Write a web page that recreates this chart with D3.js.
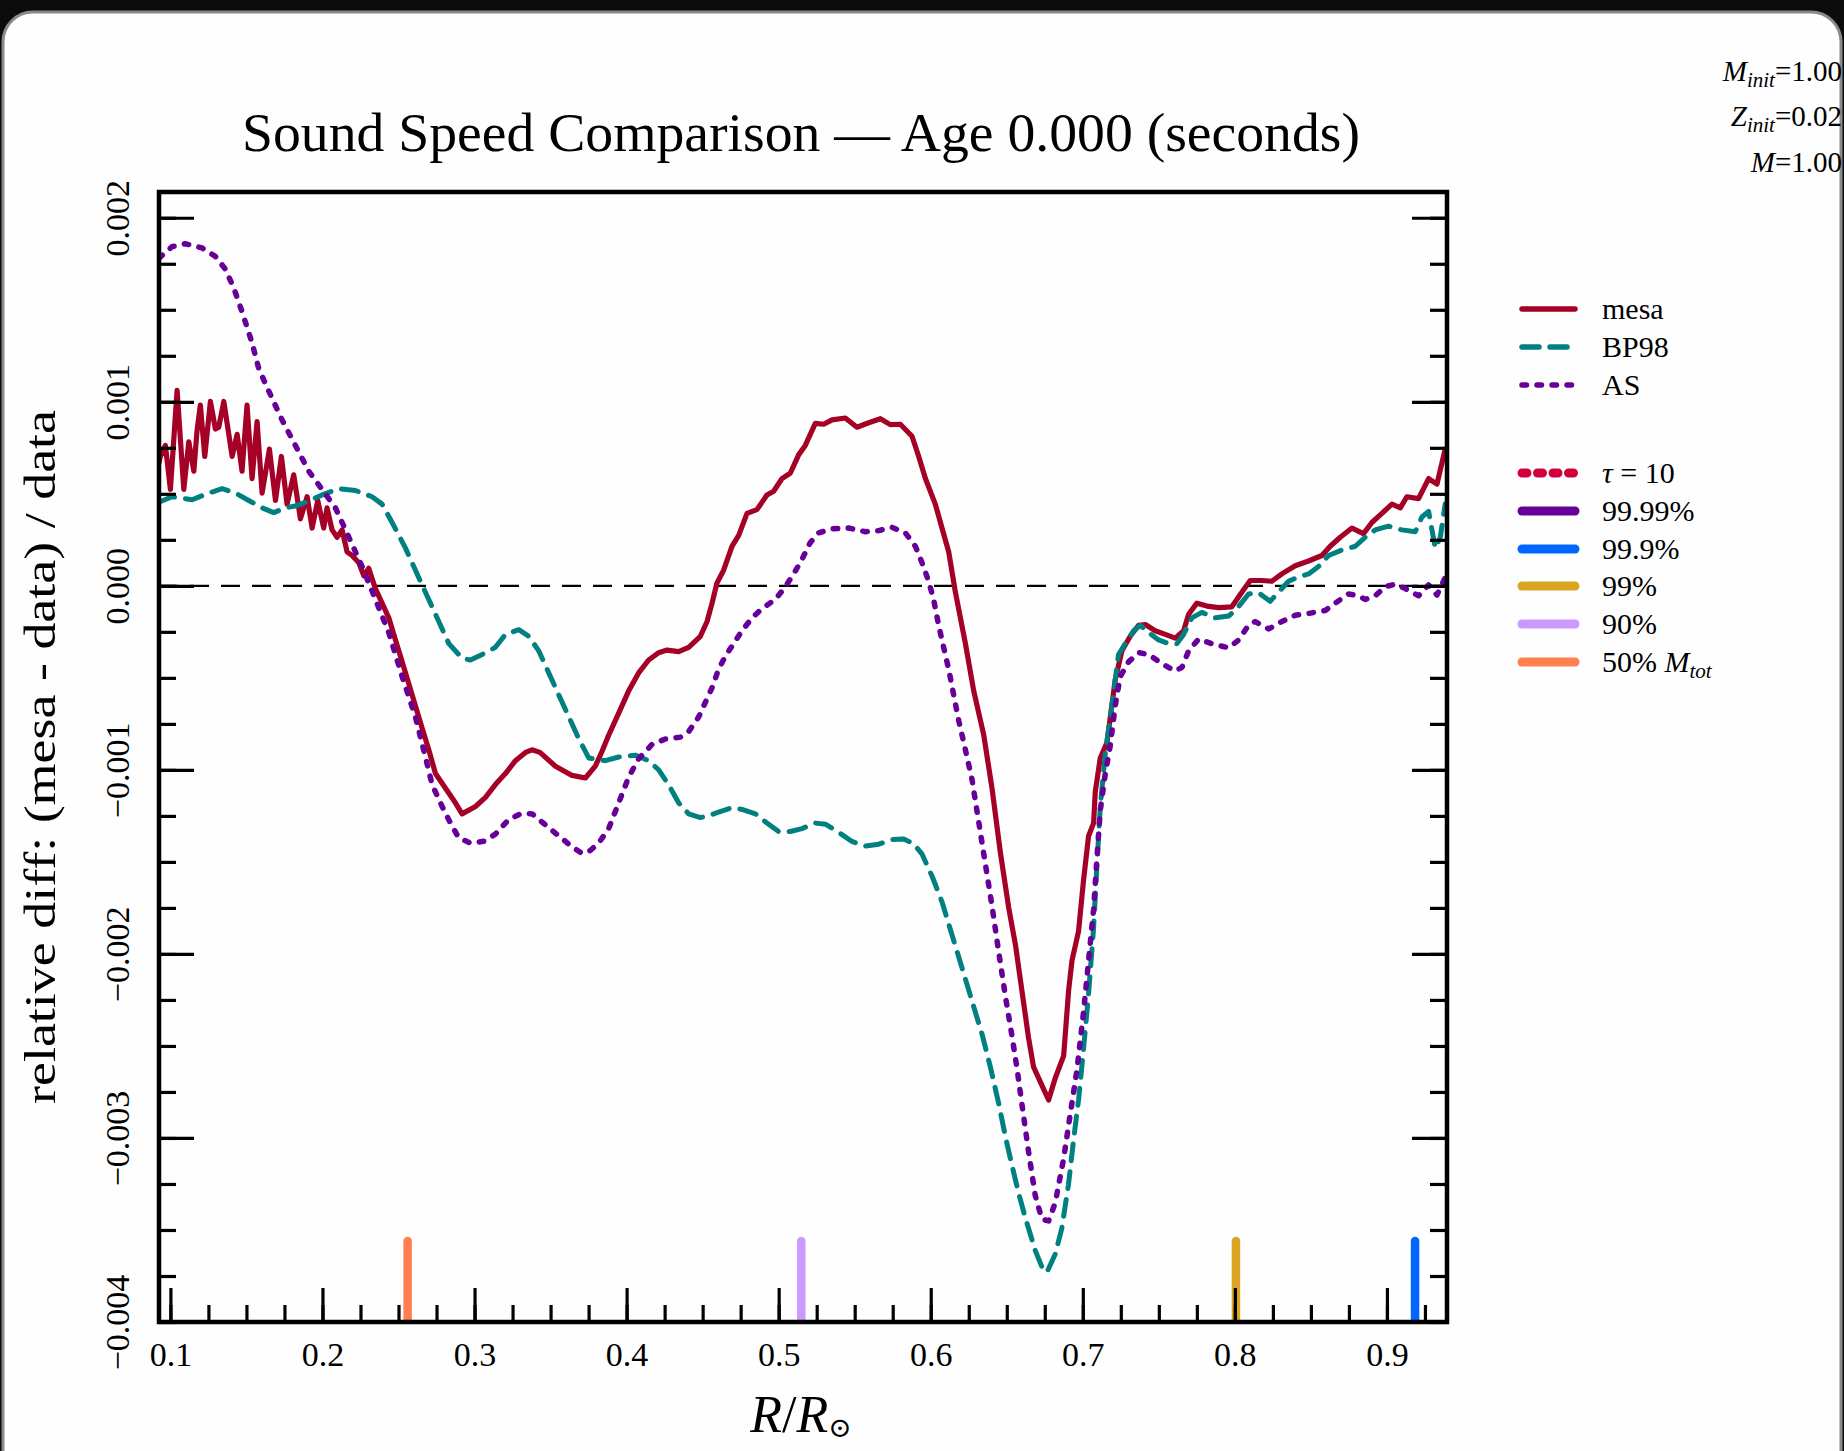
<!DOCTYPE html>
<html>
<head>
<meta charset="utf-8">
<script src="https://cdn.jsdelivr.net/npm/d3@7"></script>
<style>
  html, body { margin: 0; padding: 0; background: #0b0b0b; }
  svg { display: block; }
  text { font-family: "Liberation Serif", "DejaVu Serif", serif; fill: #000; }
</style>
</head>
<body>
<svg id="chart" width="1844" height="1451"></svg>
<script>
// Relative sound-speed differences [R/Rsun, (model - data)/data]
const mesa = [
  [0.0923, 0.663e-3], [0.0934, 0.703e-3], [0.0967, 0.763e-3], [0.1000, 0.524e-3],
  [0.1044, 1.062e-3], [0.1088, 0.524e-3], [0.1121, 0.783e-3], [0.1154, 0.623e-3],
  [0.1175, 0.842e-3], [0.1197, 0.982e-3], [0.1226, 0.703e-3], [0.1263, 1.002e-3],
  [0.1296, 0.852e-3], [0.1318, 0.862e-3], [0.1351, 1.002e-3], [0.1406, 0.703e-3],
  [0.1439, 0.823e-3], [0.1471, 0.623e-3], [0.1504, 0.982e-3], [0.1537, 0.583e-3],
  [0.1570, 0.892e-3], [0.1603, 0.504e-3], [0.1651, 0.743e-3], [0.1691, 0.464e-3],
  [0.1730, 0.703e-3], [0.1767, 0.444e-3], [0.1811, 0.603e-3], [0.1855, 0.364e-3],
  [0.1899, 0.484e-3], [0.1932, 0.314e-3], [0.1969, 0.464e-3], [0.2008, 0.314e-3],
  [0.2030, 0.424e-3], [0.2063, 0.304e-3], [0.2096, 0.264e-3], [0.2129, 0.304e-3],
  [0.2162, 0.185e-3], [0.2195, 0.165e-3], [0.2239, 0.125e-3], [0.2272, 0.055e-3],
  [0.2304, 0.095e-3], [0.2348, -0.015e-3], [0.2392, -0.094e-3], [0.2436, -0.174e-3],
  [0.2480, -0.294e-3], [0.2524, -0.413e-3], [0.2568, -0.533e-3], [0.2611, -0.652e-3],
  [0.2655, -0.772e-3], [0.2699, -0.891e-3], [0.2743, -1.020e-3], [0.2809, -1.100e-3],
  [0.2874, -1.179e-3], [0.2918, -1.239e-3], [0.3006, -1.199e-3], [0.3072, -1.149e-3],
  [0.3137, -1.080e-3], [0.3203, -1.020e-3], [0.3269, -0.950e-3], [0.3335, -0.905e-3],
  [0.3378, -0.891e-3], [0.3430, -0.905e-3], [0.3532, -0.980e-3], [0.3641, -1.030e-3],
  [0.3729, -1.044e-3], [0.3794, -0.980e-3], [0.3838, -0.900e-3], [0.3882, -0.812e-3],
  [0.3948, -0.692e-3], [0.4013, -0.572e-3], [0.4079, -0.473e-3], [0.4145, -0.403e-3],
  [0.4211, -0.363e-3], [0.4266, -0.349e-3], [0.4342, -0.357e-3], [0.4408, -0.334e-3],
  [0.4485, -0.274e-3], [0.4529, -0.194e-3], [0.4562, -0.094e-3], [0.4594, 0.015e-3],
  [0.4638, 0.085e-3], [0.4693, 0.215e-3], [0.4737, 0.274e-3], [0.4792, 0.394e-3],
  [0.4857, 0.414e-3], [0.4923, 0.494e-3], [0.4967, 0.514e-3], [0.5022, 0.583e-3],
  [0.5077, 0.613e-3], [0.5132, 0.713e-3], [0.5175, 0.763e-3], [0.5241, 0.883e-3],
  [0.5296, 0.878e-3], [0.5351, 0.902e-3], [0.5438, 0.912e-3], [0.5515, 0.862e-3],
  [0.5592, 0.886e-3], [0.5669, 0.908e-3], [0.5734, 0.876e-3], [0.5800, 0.878e-3],
  [0.5877, 0.813e-3], [0.5921, 0.703e-3], [0.5965, 0.583e-3], [0.6030, 0.444e-3],
  [0.6074, 0.314e-3], [0.6118, 0.185e-3], [0.6162, -0.034e-3], [0.6228, -0.313e-3],
  [0.6283, -0.572e-3], [0.6349, -0.812e-3], [0.6403, -1.100e-3], [0.6458, -1.450e-3],
  [0.6513, -1.750e-3], [0.6557, -1.950e-3], [0.6599, -2.196e-3], [0.6643, -2.455e-3],
  [0.6676, -2.614e-3], [0.6720, -2.694e-3], [0.6775, -2.794e-3], [0.6819, -2.674e-3],
  [0.6874, -2.554e-3], [0.6907, -2.196e-3], [0.6929, -2.036e-3], [0.6972, -1.877e-3],
  [0.7005, -1.598e-3], [0.7038, -1.359e-3], [0.7071, -1.289e-3], [0.7082, -1.120e-3],
  [0.7115, -0.935e-3], [0.7159, -0.852e-3], [0.7213, -0.512e-3], [0.7257, -0.353e-3],
  [0.7312, -0.274e-3], [0.7367, -0.214e-3], [0.7411, -0.210e-3], [0.7476, -0.244e-3],
  [0.7542, -0.264e-3], [0.7608, -0.284e-3], [0.7663, -0.244e-3], [0.7696, -0.154e-3],
  [0.7750, -0.094e-3], [0.7816, -0.110e-3], [0.7893, -0.118e-3], [0.7980, -0.114e-3],
  [0.8046, -0.035e-3], [0.8101, 0.029e-3], [0.8178, 0.029e-3], [0.8243, 0.025e-3],
  [0.8309, 0.065e-3], [0.8397, 0.109e-3], [0.8485, 0.135e-3], [0.8572, 0.165e-3],
  [0.8627, 0.215e-3], [0.8693, 0.264e-3], [0.8770, 0.314e-3], [0.8846, 0.284e-3],
  [0.8901, 0.344e-3], [0.8967, 0.394e-3], [0.9033, 0.444e-3], [0.9088, 0.424e-3],
  [0.9131, 0.484e-3], [0.9208, 0.474e-3], [0.9274, 0.583e-3], [0.9329, 0.553e-3],
  [0.9383, 0.743e-3]
];

const bp98 = [
  [0.0923, 0.454e-3], [0.1011, 0.484e-3], [0.1143, 0.468e-3], [0.1252, 0.504e-3],
  [0.1340, 0.528e-3], [0.1428, 0.504e-3], [0.1515, 0.464e-3], [0.1603, 0.424e-3],
  [0.1680, 0.398e-3], [0.1756, 0.424e-3], [0.1822, 0.434e-3], [0.1910, 0.460e-3],
  [0.1997, 0.494e-3], [0.2107, 0.528e-3], [0.2217, 0.518e-3], [0.2326, 0.484e-3],
  [0.2392, 0.444e-3], [0.2458, 0.344e-3], [0.2546, 0.205e-3], [0.2633, 0.045e-3],
  [0.2699, -0.074e-3], [0.2765, -0.194e-3], [0.2831, -0.314e-3], [0.2918, -0.393e-3],
  [0.2973, -0.403e-3], [0.3050, -0.373e-3], [0.3137, -0.334e-3], [0.3203, -0.264e-3],
  [0.3291, -0.238e-3], [0.3357, -0.274e-3], [0.3422, -0.353e-3], [0.3488, -0.473e-3],
  [0.3554, -0.593e-3], [0.3620, -0.712e-3], [0.3686, -0.832e-3], [0.3751, -0.935e-3],
  [0.3860, -0.950e-3], [0.3948, -0.930e-3], [0.4057, -0.920e-3], [0.4145, -0.950e-3],
  [0.4211, -1.000e-3], [0.4276, -1.080e-3], [0.4342, -1.179e-3], [0.4408, -1.239e-3],
  [0.4485, -1.259e-3], [0.4540, -1.249e-3], [0.4605, -1.229e-3], [0.4693, -1.205e-3],
  [0.4759, -1.215e-3], [0.4847, -1.239e-3], [0.4923, -1.289e-3], [0.5000, -1.335e-3],
  [0.5077, -1.335e-3], [0.5153, -1.319e-3], [0.5241, -1.289e-3], [0.5307, -1.295e-3],
  [0.5394, -1.339e-3], [0.5482, -1.389e-3], [0.5570, -1.414e-3], [0.5658, -1.404e-3],
  [0.5746, -1.379e-3], [0.5822, -1.375e-3], [0.5888, -1.402e-3], [0.5943, -1.458e-3],
  [0.6009, -1.578e-3], [0.6074, -1.717e-3], [0.6140, -1.897e-3], [0.6206, -2.076e-3],
  [0.6271, -2.255e-3], [0.6337, -2.435e-3], [0.6392, -2.614e-3], [0.6447, -2.813e-3],
  [0.6491, -2.993e-3], [0.6535, -3.152e-3], [0.6578, -3.300e-3], [0.6621, -3.431e-3],
  [0.6687, -3.611e-3], [0.6731, -3.700e-3], [0.6764, -3.730e-3], [0.6819, -3.631e-3],
  [0.6862, -3.491e-3], [0.6906, -3.252e-3], [0.6939, -3.013e-3], [0.6972, -2.794e-3],
  [0.7005, -2.515e-3], [0.7038, -2.216e-3], [0.7071, -1.857e-3], [0.7093, -1.518e-3],
  [0.7115, -1.199e-3], [0.7148, -0.910e-3], [0.7191, -0.652e-3], [0.7235, -0.373e-3],
  [0.7279, -0.314e-3], [0.7334, -0.244e-3], [0.7378, -0.214e-3], [0.7433, -0.254e-3],
  [0.7498, -0.294e-3], [0.7564, -0.314e-3], [0.7619, -0.314e-3], [0.7663, -0.264e-3],
  [0.7717, -0.174e-3], [0.7783, -0.144e-3], [0.7871, -0.174e-3], [0.7959, -0.164e-3],
  [0.8013, -0.124e-3], [0.8090, -0.044e-3], [0.8156, -0.038e-3], [0.8232, -0.084e-3],
  [0.8287, -0.034e-3], [0.8353, 0.025e-3], [0.8419, 0.049e-3], [0.8485, 0.065e-3],
  [0.8550, 0.105e-3], [0.8616, 0.165e-3], [0.8704, 0.195e-3], [0.8792, 0.215e-3],
  [0.8857, 0.264e-3], [0.8923, 0.304e-3], [0.9010, 0.324e-3], [0.9098, 0.304e-3],
  [0.9186, 0.294e-3], [0.9230, 0.374e-3], [0.9274, 0.404e-3], [0.9318, 0.205e-3],
  [0.9351, 0.264e-3], [0.9383, 0.444e-3]
];

const as09 = [
  [0.0925, 1.780e-3], [0.1011, 1.843e-3], [0.1098, 1.859e-3], [0.1208, 1.836e-3],
  [0.1296, 1.790e-3], [0.1362, 1.720e-3], [0.1416, 1.620e-3], [0.1471, 1.490e-3],
  [0.1537, 1.320e-3], [0.1581, 1.180e-3], [0.1646, 1.060e-3], [0.1734, 0.902e-3],
  [0.1822, 0.763e-3], [0.1909, 0.624e-3], [0.1997, 0.524e-3], [0.2085, 0.424e-3],
  [0.2173, 0.265e-3], [0.2260, 0.106e-3], [0.2348, -0.073e-3], [0.2436, -0.254e-3],
  [0.2524, -0.493e-3], [0.2611, -0.711e-3], [0.2677, -0.930e-3], [0.2721, -1.080e-3],
  [0.2787, -1.199e-3], [0.2842, -1.289e-3], [0.2896, -1.369e-3], [0.2973, -1.398e-3],
  [0.3061, -1.388e-3], [0.3137, -1.349e-3], [0.3225, -1.269e-3], [0.3313, -1.235e-3],
  [0.3379, -1.239e-3], [0.3466, -1.299e-3], [0.3554, -1.359e-3], [0.3641, -1.418e-3],
  [0.3707, -1.454e-3], [0.3761, -1.438e-3], [0.3816, -1.398e-3], [0.3882, -1.319e-3],
  [0.3948, -1.179e-3], [0.4013, -1.040e-3], [0.4079, -0.940e-3], [0.4167, -0.862e-3],
  [0.4255, -0.832e-3], [0.4353, -0.822e-3], [0.4408, -0.792e-3], [0.4474, -0.712e-3],
  [0.4518, -0.633e-3], [0.4562, -0.553e-3], [0.4605, -0.453e-3], [0.4649, -0.383e-3],
  [0.4704, -0.314e-3], [0.4759, -0.244e-3], [0.4825, -0.174e-3], [0.4890, -0.124e-3],
  [0.4978, -0.074e-3], [0.5044, -0.005e-3], [0.5099, 0.065e-3], [0.5154, 0.145e-3],
  [0.5208, 0.235e-3], [0.5263, 0.288e-3], [0.5351, 0.310e-3], [0.5460, 0.314e-3],
  [0.5570, 0.294e-3], [0.5658, 0.300e-3], [0.5745, 0.318e-3], [0.5833, 0.288e-3],
  [0.5899, 0.215e-3], [0.5943, 0.125e-3], [0.5986, 0.025e-3], [0.6019, -0.074e-3],
  [0.6052, -0.214e-3], [0.6085, -0.334e-3], [0.6118, -0.453e-3], [0.6151, -0.593e-3],
  [0.6184, -0.732e-3], [0.6228, -0.891e-3], [0.6271, -1.050e-3], [0.6315, -1.280e-3],
  [0.6359, -1.510e-3], [0.6403, -1.740e-3], [0.6447, -1.990e-3], [0.6491, -2.230e-3],
  [0.6535, -2.450e-3], [0.6567, -2.620e-3], [0.6599, -2.813e-3], [0.6643, -3.073e-3],
  [0.6687, -3.312e-3], [0.6731, -3.441e-3], [0.6775, -3.451e-3], [0.6819, -3.352e-3],
  [0.6874, -3.112e-3], [0.6917, -2.873e-3], [0.6961, -2.634e-3], [0.7005, -2.315e-3],
  [0.7038, -2.036e-3], [0.7071, -1.757e-3], [0.7093, -1.478e-3], [0.7115, -1.219e-3],
  [0.7148, -1.020e-3], [0.7180, -0.871e-3], [0.7213, -0.652e-3], [0.7246, -0.493e-3],
  [0.7301, -0.413e-3], [0.7367, -0.363e-3], [0.7433, -0.373e-3], [0.7520, -0.423e-3],
  [0.7608, -0.463e-3], [0.7652, -0.443e-3], [0.7696, -0.353e-3], [0.7761, -0.290e-3],
  [0.7849, -0.314e-3], [0.7959, -0.337e-3], [0.8025, -0.294e-3], [0.8090, -0.214e-3],
  [0.8134, -0.194e-3], [0.8222, -0.234e-3], [0.8309, -0.194e-3], [0.8397, -0.160e-3],
  [0.8485, -0.150e-3], [0.8594, -0.134e-3], [0.8660, -0.094e-3], [0.8748, -0.044e-3],
  [0.8813, -0.054e-3], [0.8857, -0.074e-3], [0.8923, -0.054e-3], [0.8989, -0.005e-3],
  [0.9055, 0.009e-3], [0.9120, -0.015e-3], [0.9208, -0.054e-3], [0.9274, 0.005e-3],
  [0.9329, -0.050e-3], [0.9383, 0.045e-3]
];

// Radii enclosing given fractions of the total mass (zone markers)
const zoneLabels = ["\u03c4 = 10", "99.99%", "99.9%", "99%", "90%", "50% M_tot"];
const zoneColors = ["#d1003a", "#660099", "#0066ff", "#daa520", "#cc99ff", "#ff7f50"];
const zoneRadius = [null, null, 0.9185, 0.8007, 0.5149, 0.2560];
const zoneTop = -3.56e-3;

const seriesLabels = ["mesa", "BP98", "AS"];
const seriesColors = ["#a50026", "#008080", "#660099"];

const xTicksMajor = [0.1, 0.2, 0.3, 0.4, 0.5, 0.6, 0.7, 0.8, 0.9];
const xTicksMinor = d3.range(0.1, 0.93, 0.025).map(v => +v.toFixed(3));
const yTicksMajor = [-0.004, -0.003, -0.002, -0.001, 0.0, 0.001, 0.002];
const yTicksMinor = d3.range(-0.004, 0.00201, 0.00025).map(v => +v.toFixed(5));

const xDomain = [0.0925, 0.9395];
const yDomain = [-0.004, 0.00214];

const titleText = "Sound Speed Comparison \u2014 Age 0.000 (seconds)";
const yLabelText = "relative diff:  (mesa - data) / data";

// ---------------------------------------------------------------
const svg = d3.select("#chart");
const L = 159, R = 1447, T = 192, B = 1322;

// card background
svg.append("rect").attr("x", 0).attr("y", 0).attr("width", 1844).attr("height", 1451).attr("fill", "#0b0b0b");
svg.append("rect")
  .attr("x", 3).attr("y", 12).attr("width", 1838).attr("height", 1500)
  .attr("rx", 30).attr("ry", 30)
  .attr("fill", "#fffefe").attr("stroke", "#8a8a8a").attr("stroke-width", 3);

const x = d3.scaleLinear().domain(xDomain).range([L, R]);
const y = d3.scaleLinear().domain(yDomain).range([B, T]);

svg.append("defs").append("clipPath").attr("id", "plotClip")
  .append("rect").attr("x", L).attr("y", T).attr("width", R - L).attr("height", B - T);

const plotArea = svg.append("g").attr("clip-path", "url(#plotClip)");

// zero reference line
plotArea.append("line")
  .attr("x1", L).attr("x2", R).attr("y1", y(0)).attr("y2", y(0))
  .attr("stroke", "#000").attr("stroke-width", 2.4).attr("stroke-dasharray", "19,12");

const line = d3.line().x(d => x(d[0])).y(d => y(d[1]));

plotArea.append("path").datum(mesa).attr("d", line)
  .attr("fill", "none").attr("stroke", seriesColors[0]).attr("stroke-width", 5.2)
  .attr("stroke-linejoin", "round").attr("stroke-linecap", "round");
plotArea.append("path").datum(bp98).attr("d", line)
  .attr("fill", "none").attr("stroke", seriesColors[1]).attr("stroke-width", 5)
  .attr("stroke-linejoin", "round").attr("stroke-linecap", "round")
  .attr("stroke-dasharray", "17,11");
plotArea.append("path").datum(as09).attr("d", line)
  .attr("fill", "none").attr("stroke", seriesColors[2]).attr("stroke-width", 5.5)
  .attr("stroke-linejoin", "round").attr("stroke-linecap", "round")
  .attr("stroke-dasharray", "4.5,10.5");

// mass-fraction markers along the bottom
zoneRadius.forEach((r, i) => {
  if (r === null) return;
  plotArea.append("line")
    .attr("x1", x(r)).attr("x2", x(r))
    .attr("y1", y(yDomain[0]) + 10).attr("y2", y(zoneTop))
    .attr("stroke", zoneColors[i]).attr("stroke-width", 8.5)
    .attr("stroke-linecap", "round");
});

// axes
const fmtX = d3.format(".1f");
const fmtY = d3.format(".3f");

const gxMinor = svg.append("g").attr("transform", `translate(0,${B})`)
  .call(d3.axisBottom(x).tickValues(xTicksMinor).tickSize(-17).tickFormat(""));
const gxMajor = svg.append("g").attr("transform", `translate(0,${B})`)
  .call(d3.axisBottom(x).tickValues(xTicksMajor).tickSize(-34).tickPadding(20).tickFormat(fmtX));

const gyMinorL = svg.append("g").attr("transform", `translate(${L},0)`)
  .call(d3.axisLeft(y).tickValues(yTicksMinor).tickSize(-17).tickFormat(""));
const gyMajorL = svg.append("g").attr("transform", `translate(${L},0)`)
  .call(d3.axisLeft(y).tickValues(yTicksMajor).tickSize(-35).tickFormat(fmtY));
const gyMinorR = svg.append("g").attr("transform", `translate(${R},0)`)
  .call(d3.axisRight(y).tickValues(yTicksMinor).tickSize(-17).tickFormat(""));
const gyMajorR = svg.append("g").attr("transform", `translate(${R},0)`)
  .call(d3.axisRight(y).tickValues(yTicksMajor).tickSize(-35).tickFormat(""));

[gxMinor, gxMajor, gyMinorL, gyMajorL, gyMinorR, gyMajorR].forEach(g => {
  g.select(".domain").remove();
  g.selectAll(".tick line").attr("stroke", "#000").attr("stroke-width", 3.2);
});

gxMajor.selectAll(".tick text")
  .attr("font-family", "Liberation Serif, serif").attr("font-size", 34).attr("fill", "#000")
  .attr("y", 20).attr("dy", "0.71em");

gyMajorL.selectAll(".tick text")
  .attr("font-family", "Liberation Serif, serif").attr("font-size", 34).attr("fill", "#000")
  .attr("text-anchor", "middle").attr("transform", "rotate(-90)")
  .attr("x", 0).attr("y", -30).attr("dy", 0);

// frame
svg.append("rect").attr("x", L).attr("y", T).attr("width", R - L).attr("height", B - T)
  .attr("fill", "none").attr("stroke", "#000").attr("stroke-width", 4.5);

// title
svg.append("text").attr("x", 801).attr("y", 151).attr("text-anchor", "middle")
  .attr("font-size", 54).attr("textLength", 1118).attr("lengthAdjust", "spacingAndGlyphs")
  .text(titleText);

// axis labels
svg.append("text").attr("transform", "translate(55,757) rotate(-90)")
  .attr("text-anchor", "middle").attr("font-size", 44)
  .attr("textLength", 694).attr("lengthAdjust", "spacingAndGlyphs")
  .text(yLabelText);

const xl = svg.append("text").attr("x", 801).attr("y", 1432).attr("text-anchor", "middle").attr("font-size", 52);
xl.append("tspan").attr("font-style", "italic").text("R");
xl.append("tspan").text("/");
xl.append("tspan").attr("font-style", "italic").text("R");
xl.append("tspan").attr("font-size", 28).attr("dy", 5).text("\u2299");

// model parameters, top right
const params = [["M", "init", "=1.00"], ["Z", "init", "=0.02"], ["M", "", "=1.00"]];
const paramY = [81, 126, 172];
params.forEach((p, i) => {
  const t = svg.append("text").attr("x", 1842).attr("y", paramY[i]).attr("text-anchor", "end").attr("font-size", 29);
  t.append("tspan").attr("font-style", "italic").text(p[0]);
  if (p[1]) t.append("tspan").attr("font-style", "italic").attr("font-size", 21).attr("dy", 6).text(p[1]);
  t.append("tspan").attr("dy", p[1] ? -6 : 0).text(p[2]);
});

// legend
const legX0 = 1522, legX1 = 1575, legTextX = 1602;
const seriesRowY = [309, 347, 385];
const seriesDash = [null, "17,11", "4.5,10.5"];
seriesLabels.forEach((lab, i) => {
  svg.append("line").attr("x1", legX0).attr("x2", legX1).attr("y1", seriesRowY[i]).attr("y2", seriesRowY[i])
    .attr("stroke", seriesColors[i]).attr("stroke-width", 5.5).attr("stroke-linecap", "round")
    .attr("stroke-dasharray", seriesDash[i]);
  svg.append("text").attr("x", legTextX).attr("y", seriesRowY[i] + 10).attr("font-size", 30).text(lab);
});

const zoneRowY = [473, 511, 549, 586, 624, 662];
zoneLabels.forEach((lab, i) => {
  svg.append("line").attr("x1", legX0).attr("x2", legX1).attr("y1", zoneRowY[i]).attr("y2", zoneRowY[i])
    .attr("stroke", zoneColors[i]).attr("stroke-width", 9).attr("stroke-linecap", "round")
    .attr("stroke-dasharray", i === 0 ? "5,10.5" : null);
  const t = svg.append("text").attr("x", legTextX).attr("y", zoneRowY[i] + 10).attr("font-size", 30);
  if (i === 0) {
    t.append("tspan").attr("font-style", "italic").text("\u03c4");
    t.append("tspan").text(" = 10");
  } else if (lab.endsWith("M_tot")) {
    t.append("tspan").text("50% ");
    t.append("tspan").attr("font-style", "italic").text("M");
    t.append("tspan").attr("font-style", "italic").attr("font-size", 21).attr("dy", 6).text("tot");
  } else {
    t.text(lab);
  }
});
</script>
</body>
</html>
